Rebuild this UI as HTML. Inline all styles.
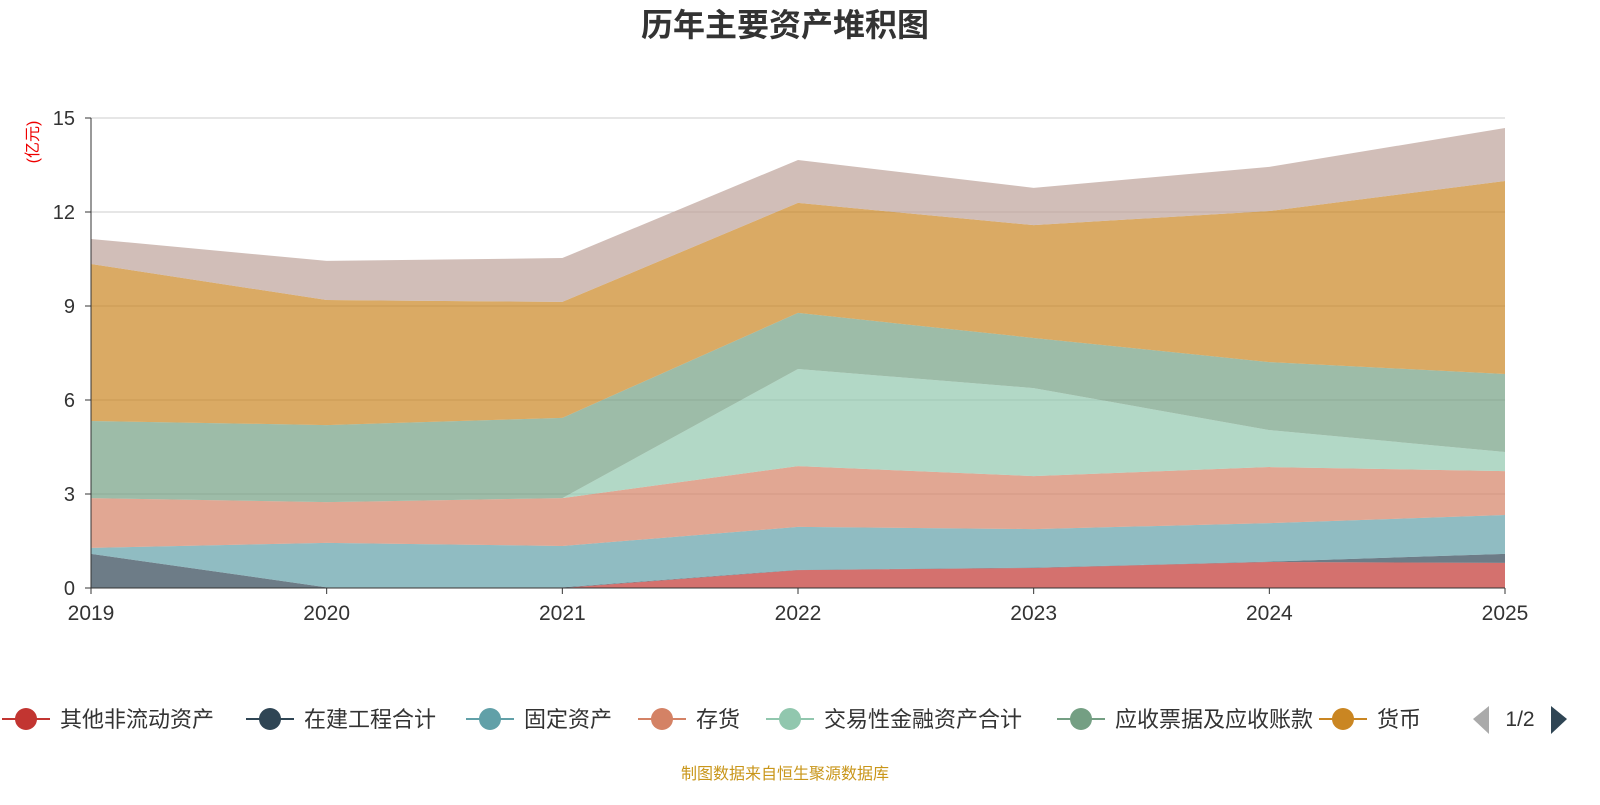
<!DOCTYPE html>
<html><head><meta charset="utf-8">
<style>
body{margin:0;background:#fff;font-family:"Liberation Sans","Noto Sans CJK SC",sans-serif;}
svg text{font-family:"Liberation Sans","Noto Sans CJK SC",sans-serif;}
</style></head>
<body>
<svg id="chart" width="1600" height="800">
<text x="785" y="36" text-anchor="middle" font-size="32" font-weight="bold" fill="#333">历年主要资产堆积图</text>
<text x="0" y="0" transform="translate(38,142) rotate(-90)" text-anchor="middle" font-size="16" fill="#e00">(亿元)</text>
<g id="grid"></g><g id="areas"></g><g id="axes"></g><g id="legend"></g>
<text x="785" y="779" text-anchor="middle" font-size="16" fill="#c9961a">制图数据来自恒生聚源数据库</text>
</svg>
<script>
const years=["2019","2020","2021","2022","2023","2024","2025"];
const yTicks=[0,3,6,9,12,15];
const otherNonCurrent=[0,0,0,0.57,0.64,0.83,0.80];
const construction=[1.09,0.02,0.02,0.01,0.01,0.01,0.29];
const fixedAssets=[0.19,1.42,1.32,1.37,1.23,1.23,1.24];
const inventory=[1.59,1.30,1.53,1.94,1.69,1.79,1.40];
const tradingFin=[0,0,0,3.10,2.81,1.18,0.61];
const receivables=[2.46,2.46,2.56,1.79,1.60,2.17,2.49];
const cash=[5.01,3.99,3.70,3.51,3.60,4.82,6.16];
const otherTop=[0.80,1.25,1.40,1.37,1.19,1.41,1.69];
const seriesNames=["其他非流动资产","在建工程合计","固定资产","存货","交易性金融资产合计","应收票据及应收账款","货币","其他资产"];
const seriesData=[otherNonCurrent,construction,fixedAssets,inventory,tradingFin,receivables,cash,otherTop];
const colors=["#c23531","#2f4554","#61a0a8","#d48265","#91c7ae","#749f83","#ca8622","#bda29a"];
const NS="http://www.w3.org/2000/svg";
const X0=91,X1=1505,Y0=588,Y1=118,YMAX=15;
const xs=i=>X0+(X1-X0)*i/(years.length-1);
const ys=v=>Y0-(Y0-Y1)*v/YMAX;
function mk(tag,attrs,parent){const e=document.createElementNS(NS,tag);for(const k in attrs)e.setAttribute(k,attrs[k]);parent.appendChild(e);return e;}
const grid=document.getElementById('grid'),axes=document.getElementById('axes'),areas=document.getElementById('areas'),legend=document.getElementById('legend');
yTicks.forEach(t=>{
  if(t>0){const l=mk('line',{x1:X0,x2:X1,y1:ys(t),y2:ys(t),stroke:'#ccc'},grid);
  
  }
  const tx=mk('text',{x:X0-16,y:ys(t)+7,'text-anchor':'end','font-size':20,fill:'#333'},axes);tx.textContent=t;
  
  
  mk('line',{x1:X0-6,x2:X0,y1:ys(t),y2:ys(t),stroke:'#333'},axes);
});
let cum=years.map(()=>0);
seriesData.forEach((d,s)=>{
  const lo=cum.slice();const hi=cum.map((c,i)=>c+d[i]);
  let p=hi.map((v,i)=>(i?'L':'M')+xs(i)+','+ys(v)).join(' ');
  for(let i=years.length-1;i>=0;i--)p+=' L'+xs(i)+','+ys(lo[i]);
  const a=mk('path',{d:p+' Z',fill:colors[s],'fill-opacity':0.7,stroke:'none'},areas);
  
  
  cum=hi;
});
mk('line',{x1:X0,x2:X0,y1:Y1,y2:Y0,stroke:'#333'},axes);
mk('line',{x1:X0,x2:X1,y1:Y0,y2:Y0,stroke:'#333'},axes);
years.forEach((y,i)=>{
  mk('line',{x1:xs(i),x2:xs(i),y1:Y0,y2:Y0+6,stroke:'#333'},axes);
  const t=mk('text',{x:xs(i),y:Y0+32,'text-anchor':'middle','font-size':21,fill:'#333'},axes);t.textContent=y;
  
  
});
const legX=[2,246,466,638,766,1057,1319];
for(let s=0;s<7;s++){
  const g=mk('g',{},legend);
  
  
  const x=legX[s];
  mk('line',{x1:x,x2:x+48,y1:719,y2:719,stroke:colors[s],'stroke-width':2},g);
  mk('circle',{cx:x+24,cy:719,r:11,fill:colors[s]},g);
  const t=mk('text',{x:x+58,y:727,'font-size':22,fill:'#333'},g);t.textContent=seriesNames[s];
}
const pp=mk('path',{d:'M1489,706 L1473,719 L1489,734 Z',fill:'#aaa'},legend);


const pt=mk('text',{x:1520,y:726,'text-anchor':'middle','font-size':21,fill:'#333'},legend);pt.textContent='1/2';


const np=mk('path',{d:'M1551,706 L1567,719 L1551,734 Z',fill:'#2f4554'},legend);


</script>
</body></html>
